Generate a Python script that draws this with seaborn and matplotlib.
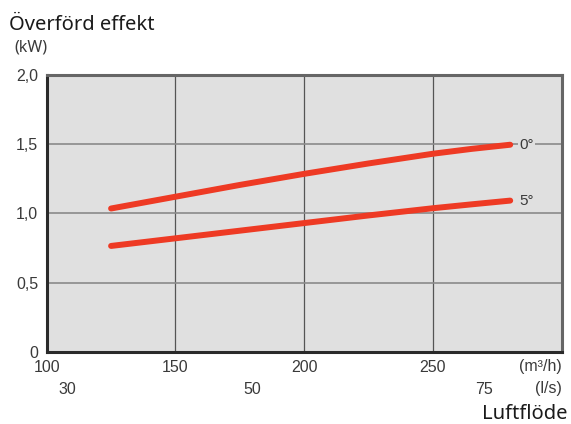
import pandas as pd
import matplotlib
matplotlib.use("Agg")
import matplotlib.pyplot as plt
import matplotlib.transforms as mtransforms
import seaborn as sns

# ==========================================
# DATA
# ==========================================
airflow_m3h = [125, 150, 175, 200, 225, 250, 265, 280]
effect_0deg = [1.035, 1.12, 1.205, 1.285, 1.36, 1.43, 1.465, 1.495]
effect_5deg = [0.765, 0.82, 0.875, 0.93, 0.985, 1.037, 1.065, 1.092]
series_labels = ["0°", "5°"]

x_ticks = [100, 150, 200, 250, 300]
x_tick_labels = ["100", "150", "200", "250", ""]
ls_ticks = [30, 50, 75]          # l/s, shown under the m3/h axis
y_ticks = [0, 0.5, 1.0, 1.5, 2.0]
y_tick_labels = ["0", "0,5", "1,0", "1,5", "2,0"]

LINE_RED = "#EE3A24"
BG_GRAY = "#E0E0E0"
TEXT_GRAY = "#3a3a3a"
NUM_FONT = ["Liberation Sans", "DejaVu Sans"]


def plot_effect():
    df = pd.DataFrame({
        "airflow": airflow_m3h * 2,
        "effect": effect_0deg + effect_5deg,
        "temp": [series_labels[0]] * len(airflow_m3h) + [series_labels[1]] * len(airflow_m3h),
    })

    sns.set_style("white")
    plt.rcParams["font.family"] = ["Noto Sans", "DejaVu Sans"]

    fig = plt.figure(figsize=(5.71, 4.24), dpi=100)
    ax = fig.add_axes([0.0818, 0.1698, 0.9019, 0.654])
    ax.set_facecolor(BG_GRAY)

    # grid: vertical darker, horizontal lighter
    for xv in x_ticks[1:-1]:
        ax.axvline(xv, color="#555555", lw=0.9, zorder=1)
    for yv in y_ticks[1:-1]:
        ax.axhline(yv, color="#8a8a8a", lw=1.2, zorder=1)

    sns.lineplot(
        data=df, x="airflow", y="effect", hue="temp",
        palette=[LINE_RED, LINE_RED], linewidth=4.3, legend=False,
        ax=ax, zorder=3, solid_capstyle="round", solid_joinstyle="round",
    )

    # end labels for the curves
    for lab, vals in zip(series_labels, [effect_0deg, effect_5deg]):
        ax.text(airflow_m3h[-1] + 3.5, vals[-1], lab, fontsize=11, color=TEXT_GRAY,
                family=NUM_FONT, ha="left", va="center", zorder=4,
                bbox=dict(facecolor=BG_GRAY, edgecolor="none", pad=1.0))

    ax.set_xlim(100, 300)
    ax.set_ylim(0, 2.0)
    ax.set_xticks(x_ticks)
    ax.set_xticklabels(x_tick_labels, family=NUM_FONT)
    ax.set_yticks(y_ticks)
    ax.set_yticklabels(y_tick_labels, family=NUM_FONT)
    ax.tick_params(axis="both", length=5, width=0.8, color="#777777",
                   labelsize=11.5, labelcolor=TEXT_GRAY, pad=1, direction="out")
    ax.set_xlabel("")
    ax.set_ylabel("")

    for side in ["left", "bottom"]:
        ax.spines[side].set_color("#2a2a2a")
        ax.spines[side].set_linewidth(2.2)
    for side in ["top", "right"]:
        ax.spines[side].set_color("#666666")
        ax.spines[side].set_linewidth(2.2)
    for s in ax.spines.values():
        s.set_zorder(5)

    # secondary l/s row and units
    trans = mtransforms.blended_transform_factory(ax.transData, fig.transFigure)
    for v in ls_ticks:
        ax.text(v * 3.6, 1 - 389 / 424, str(v), transform=trans, ha="center",
                va="center", fontsize=11.5, color=TEXT_GRAY, family=NUM_FONT)
    fig.text(562 / 571, 1 - 366 / 424, "(m³/h)", ha="right", va="center",
             fontsize=11.5, color=TEXT_GRAY, family=NUM_FONT)
    fig.text(562 / 571, 1 - 389 / 424, "(l/s)", ha="right", va="center",
             fontsize=11.5, color=TEXT_GRAY, family=NUM_FONT)
    fig.text(567 / 571, 1 - 414 / 424, "Luftflöde", ha="right", va="center",
             fontsize=14.5, color="#1a1a1a")

    fig.text(9 / 571, 1 - 25 / 424, "Överförd effekt", ha="left", va="center",
             fontsize=14.5, color="#1a1a1a")
    fig.text(14 / 571, 1 - 47 / 424, "(kW)", ha="left", va="center",
             fontsize=11.5, color=TEXT_GRAY)

    fig.savefig("out.png", dpi=100)
    plt.close(fig)


if __name__ == "__main__":
    plot_effect()
